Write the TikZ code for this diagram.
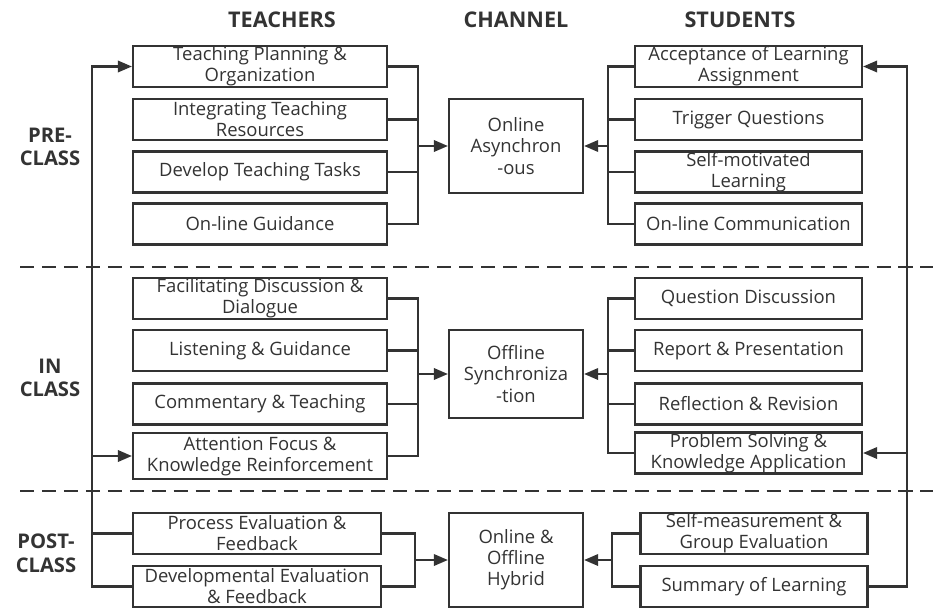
\documentclass[tikz,border=0pt]{standalone}
\usepackage{fontspec}
\setmainfont{Open Sans}
\usetikzlibrary{arrows.meta}

\tikzset{
    box/.style={draw, rectangle, inner sep=0pt, align=center,
                minimum height=0.82cm, font=\fontsize{10.5}{12}\selectfont},
    tbox/.style={box, minimum width=5.08cm},
    sbox/.style={box, minimum width=4.54cm},
    pbox/.style={box, minimum width=4.96cm},
    chan/.style={box, minimum width=2.68cm, minimum height=1.88cm},
    head/.style={font=\bfseries\fontsize{12.3}{14}\selectfont},
    phase/.style={font=\bfseries\fontsize{11.5}{13.5}\selectfont, align=center}
}

\begin{document}
\begin{tikzpicture}[x=0.02cm, y=-0.02cm, color=black!80, line width=1.25pt,
                    >={Triangle[length=8pt,width=6.5pt]}]
    \useasboundingbox (0,0) rectangle (933,608);

    % column and phase titles
    \node[head] (hT) at (282,20) {TEACHERS};
    \node[head] (hC) at (516,20) {CHANNEL};
    \node[head] (hS) at (740,20) {STUDENTS};
    \node[phase] (pre) at (50,147) {PRE-\\CLASS};
    \node[phase] (in) at (50,378) {IN\\CLASS};
    \node[phase] (post) at (46,553) {POST-\\CLASS};

    % phase separators
    \draw[dashed, dash pattern=on 8pt off 4.5pt] (20,267) -- (933,267);
    \draw[dashed, dash pattern=on 8pt off 4.5pt] (20,491) -- (933,491);

    \begin{scope}[every node/.style={tbox}]
        \node (T1) at (260,66.5) {Teaching Planning \&\\Organization};
        \node (T2) at (260,119.5) {Integrating Teaching\\Resources};
        \node (T3) at (260,172) {Develop Teaching Tasks};
        \node (T4) at (260,224) {On-line Guidance};
        \node (T5) at (260,298.5) {Facilitating Discussion \&\\Dialogue};
        \node (T6) at (260,350.5) {Listening \& Guidance};
        \node (T7) at (260,404) {Commentary \& Teaching};
        \node[minimum height=0.92cm] (T8) at (260,456) {Attention Focus \&\\Knowledge Reinforcement};
    \end{scope}

    \begin{scope}[every node/.style={pbox}]
        \node (P1) at (257,533.5) {Process Evaluation \&\\Feedback};
        \node (P2) at (257,586.5) {Developmental Evaluation\\\& Feedback};
    \end{scope}

    \begin{scope}[every node/.style={sbox}]
        \node (S1) at (748.5,66.5) {Acceptance of Learning\\Assignment};
        \node (S2) at (748.5,119.5) {Trigger Questions};
        \node (S3) at (748.5,172) {Self-motivated\\Learning};
        \node (S4) at (748.5,224) {On-line Communication};
        \node (S5) at (748.5,298.5) {Question Discussion};
        \node (S6) at (748.5,350.5) {Report \& Presentation};
        \node (S7) at (748.5,404) {Reflection \& Revision};
        \node (S8) at (748.5,453) {Problem Solving \&\\Knowledge Application};
        \node (S9) at (754,533.5) {Self-measurement \&\\Group Evaluation};
        \node (S10) at (754,586.5) {Summary of Learning};
    \end{scope}

    \begin{scope}[every node/.style={chan}]
        \node (C1) at (516,146) {Online\\Asynchron\\-ous};
        \node[minimum height=1.76cm] (C2) at (516,374) {Offline\\Synchroniza\\-tion};
        \node (C3) at (516,560) {Online \&\\Offline\\Hybrid};
    \end{scope}

    % bus joints
    \coordinate (bA) at (418,146);
    \coordinate (bB) at (608,146);
    \coordinate (bC) at (418,374);
    \coordinate (bD) at (608,374);
    \coordinate (bE) at (415,560);
    \coordinate (bF) at (612,560);
    \coordinate (fL) at (92,66.5);
    \coordinate (fR) at (907,66.5);

    \foreach \n in {T1,T2,T3,T4} \draw (\n.east) -| (bA);
    \foreach \n in {S1,S2,S3,S4} \draw (\n.west) -| (bB);
    \foreach \n in {T5,T6,T7,T8} \draw (\n.east) -| (bC);
    \foreach \n in {S5,S6,S7,S8} \draw (\n.west) -| (bD);
    \foreach \n in {P1,P2} \draw (\n.east) -| (bE);
    \foreach \n in {S9,S10} \draw (\n.west) -| (bF);

    \draw[->] (bA) -- (C1);
    \draw[->] (bB) -- (C1);
    \draw[->] (bC) -- (C2);
    \draw[->] (bD) -- (C2);
    \draw[->] (bE) -- (C3);
    \draw[->] (bF) -- (C3);

    % feedback loops
    \draw[->] (P2.west) -| (fL) -- (T1.west);
    \draw (P1.west) -- (P1.west -| fL);
    \draw[->] (T8.west -| fL) -- (T8.west);
    \draw[->] (S10.east) -| (fR) -- (S1.east);
    \draw[->] (S8.east -| fR) -- (S8.east);
\end{tikzpicture}
\end{document}
